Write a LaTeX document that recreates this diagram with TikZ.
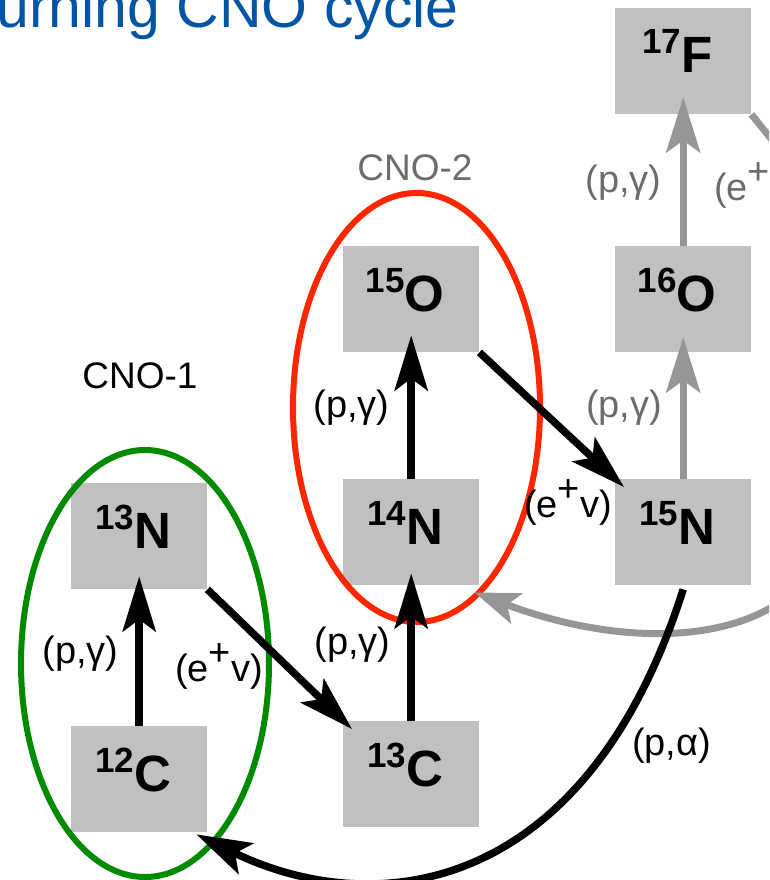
\documentclass[tikz,border=0pt]{standalone}
\usepackage{fontspec}
\setmainfont{Liberation Sans}
\usetikzlibrary{arrows.meta,calc}
\definecolor{boxgray}{RGB}{192,192,192}
\definecolor{arrgray}{RGB}{150,150,150}
\definecolor{labgray}{RGB}{108,108,108}
\definecolor{titleblue}{RGB}{0,86,164}
\definecolor{cnogreen}{RGB}{0,138,0}
\definecolor{cnored}{RGB}{255,38,0}
\newcommand\nuclide[2]{\raisebox{19pt}{\fontsize{35}{35}\selectfont\bfseries #1}{\fontsize{51}{51}\selectfont\bfseries #2}}
\newcommand\epv{(e\raisebox{16pt}{+}v)}
\begin{document}
\begin{tikzpicture}[x=1pt,y=-1pt,
  nuc/.style={fill=boxgray, minimum width=136pt, minimum height=106pt, inner sep=0pt, anchor=north west},
  nuclab/.style={anchor=base, inner sep=0pt},
  lab/.style={anchor=base, inner sep=0pt, font=\fontsize{38}{38}\selectfont},
  glab/.style={lab, text=labgray},
  arr/.style={line width=7.5pt, draw=black, -{Stealth[length=55pt,width=33pt,inset=12pt]}},
  garr/.style={line width=7pt, draw=arrgray, -{Stealth[length=55pt,width=34pt,inset=12pt]}},
  ring/.style={line width=6pt}]
\useasboundingbox (0,0) rectangle (769,880);
\clip (0,0) rectangle (769,880);

% title
\node[anchor=base west, inner sep=0pt, text=titleblue, font=\fontsize{59}{59}\selectfont] (title) at (-4,28) {urning CNO cycle};

% boxes
\node[nuc] (f17) at (615,8) {};
\node[nuc] (o16) at (615,246) {};
\node[nuc] (o15) at (343,246) {};
\node[nuc] (n15) at (615,479) {};
\node[nuc] (n14) at (343,479) {};
\node[nuc] (n13) at (71,483) {};
\node[nuc] (c12) at (71,726) {};
\node[nuc] (c13) at (343,721) {};

% box labels
\node[nuclab] (f17l) at ($(f17.north)+(-6,65)$) {\nuclide{17}{F}};
\node[nuclab] (o16l) at ($(o16.north)+(-6,65)$) {\nuclide{16}{O}};
\node[nuclab] (o15l) at ($(o15.north)+(-6,65)$) {\nuclide{15}{O}};
\node[nuclab] (n15l) at ($(n15.north)+(-6,65)$) {\nuclide{15}{N}};
\node[nuclab] (n14l) at ($(n14.north)+(-6,65)$) {\nuclide{14}{N}};
\node[nuclab] (n13l) at ($(n13.north)+(-6,65)$) {\nuclide{13}{N}};
\node[nuclab] (c12l) at ($(c12.north)+(-6,65)$) {\nuclide{12}{C}};
\node[nuclab] (c13l) at ($(c13.north)+(-6,65)$) {\nuclide{13}{C}};

% cycle rings
\draw[ring, cnogreen] (145,663.5) ellipse [x radius=124, y radius=213.5];
\draw[ring, cnored] (416.5,407.5) ellipse [x radius=123.5, y radius=214.5];

% cycle names
\node[lab, font=\fontsize{37}{37}\selectfont] (cno1) at (140,388) {CNO-1};
\node[lab, font=\fontsize{37}{37}\selectfont, text=labgray] (cno2) at (415,180) {CNO-2};

% gray (CNO-3 branch) arrows
\coordinate (f17out) at (820,199);
\coordinate (grayin) at (790,595);
\draw[garr] (n15.north) -- ($(o16.south)+(0,-15)$);
\draw[garr] (o16.north) -- ($(f17.south)+(0,-17)$);
\draw[line width=7pt, draw=arrgray] (f17.south east) -- (f17out);
\draw[line width=7pt, draw=arrgray, -{Stealth[length=45pt,width=32pt,inset=10pt]}] (grayin) .. controls (720,650) and (600,640) .. ($(n14.south east)+(-5,7)$);

% black arrows
\draw[arr] (c12.north) -- ($(n13.south)+(0,-13)$);
\draw[arr] (n13.south east) -- ($(c13.north west)+(9,8)$);
\draw[arr] (c13.north) -- ($(n14.south)+(0,-12)$);
\draw[arr] (n14.north) -- ($(o15.south)+(0,-17)$);
\draw[arr] (o15.south east) -- ($(n15.north west)+(9,8)$);
\draw[line width=7.5pt, -{Stealth[length=55pt,width=34pt,inset=12pt]}] ($(n15.south)+(0,4)$) .. controls (586,895) and (376,922) .. ($(c12.south east)+(-11,2)$);

% reaction labels
\node[lab] (pg1) at (80.5,663.5) {(p,γ)};
\node[lab] (ev1) at (219,681) {\epv};
\node[lab] (pg2) at (352.5,654.5) {(p,γ)};
\node[lab] (pg3) at (351.5,417.5) {(p,γ)};
\node[lab] (ev2) at (568,517.5) {\epv};
\node[glab] (pg4) at (624,417.5) {(p,γ)};
\node[glab] (pg5) at (623.5,192.5) {(p,γ)};
\node[glab, anchor=base west] (ev3) at (714,200) {\epv};
\node[lab] (pa) at (671.5,755) {(p,α)};
\end{tikzpicture}
\end{document}
